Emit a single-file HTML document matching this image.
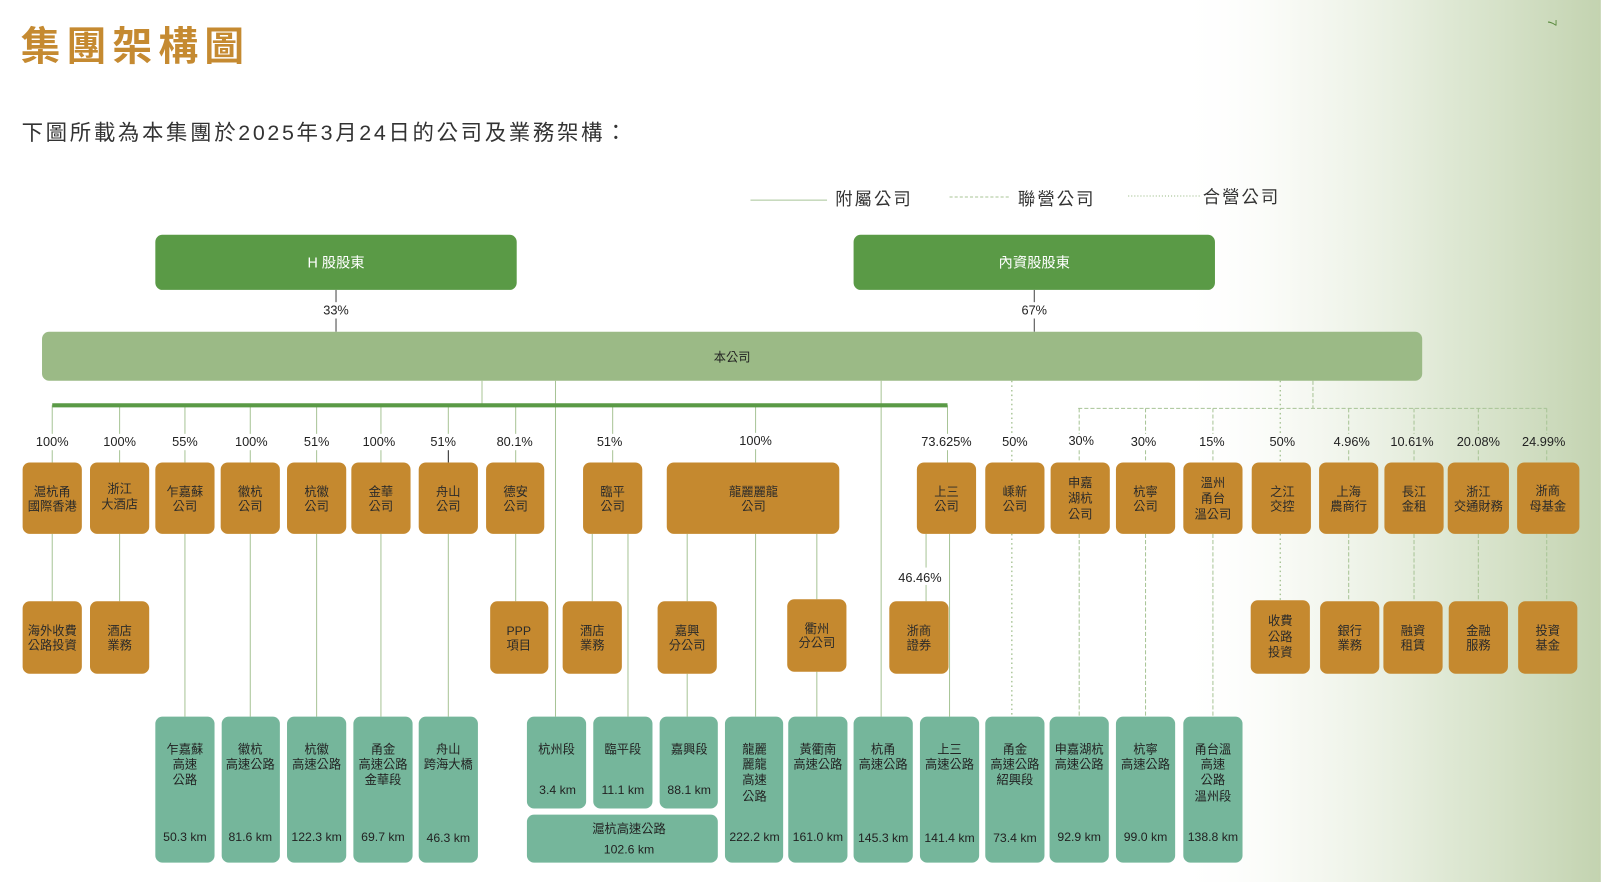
<!DOCTYPE html>
<html><head><meta charset="utf-8"><style>
html,body{margin:0;padding:0;background:#fff;}
svg{display:block;}
text{font-family:"Liberation Sans","Noto Sans CJK TC",sans-serif;}
</style></head><body>
<svg width="1601" height="882" viewBox="0 0 1568 864" xmlns="http://www.w3.org/2000/svg">
<defs>
<linearGradient id="bg" x1="0" y1="0" x2="1" y2="0">
<stop offset="0" stop-color="#ffffff" stop-opacity="0"/>
<stop offset="0.3" stop-color="#f0f4ea" stop-opacity="0.6"/>
<stop offset="0.65" stop-color="#dae5ce" stop-opacity="0.9"/>
<stop offset="1" stop-color="#c3d3b0"/>
</linearGradient>
</defs>
<rect x="1150" y="0" width="418" height="864" fill="url(#bg)"/>
<text x="1515" y="28" font-size="12" fill="#5a8a3e" transform="rotate(90 1520 24)">7</text>

<text x="20" y="59" font-size="39" font-weight="bold" fill="#c58a31" letter-spacing="6">集團架構圖</text>
<text x="21" y="137" font-size="21" fill="#333" letter-spacing="2.6">下圖所載為本集團於2025年3月24日的公司及業務架構：</text>

<!-- legend -->
<line x1="735" y1="196" x2="810" y2="196" stroke="#a8c496" stroke-width="1"/>
<text x="818" y="201" font-size="17" fill="#333" letter-spacing="2">附屬公司</text>
<line x1="930" y1="193" x2="990" y2="193" stroke="#a8c496" stroke-width="1" stroke-dasharray="3,2"/>
<text x="997" y="201" font-size="17" fill="#333" letter-spacing="2">聯營公司</text>
<line x1="1105" y1="192" x2="1175" y2="192" stroke="#a8c496" stroke-width="1.3" stroke-dasharray="1,2"/>
<text x="1178" y="199" font-size="17" fill="#333" letter-spacing="2">合營公司</text>

<!-- shareholders -->
<rect x="152" y="230" width="354" height="54" rx="7" fill="#5a9a46"/>
<text x="329" y="262" font-size="14" fill="#fff" text-anchor="middle">H 股股東</text>
<rect x="836" y="230" width="354" height="54" rx="7" fill="#5a9a46"/>
<text x="1013" y="262" font-size="14" fill="#fff" text-anchor="middle">內資股股東</text>
<g stroke="#444" stroke-width="1">
<line x1="329" y1="284" x2="329" y2="296"/><line x1="329" y1="312" x2="329" y2="325"/>
<line x1="1013" y1="284" x2="1013" y2="296"/><line x1="1013" y1="312" x2="1013" y2="325"/>
</g>
<g font-size="12.5" fill="#222" text-anchor="middle">
<text x="329" y="308">33%</text><text x="1013" y="308">67%</text>
</g>

<rect x="41" y="325" width="1352" height="48" rx="7" fill="#9bba86"/>
<text x="717" y="354" font-size="12" fill="#222" text-anchor="middle">本公司</text>

<!-- connectors -->
<g stroke="#a8c496" stroke-width="1" fill="none">
<line x1="472" y1="373" x2="472" y2="397"/>
<line x1="544" y1="373" x2="544" y2="702"/>
<line x1="863" y1="373" x2="863" y2="702"/>
<line x1="51" y1="397" x2="51" y2="425"/><line x1="117" y1="397" x2="117" y2="425"/>
<line x1="181" y1="397" x2="181" y2="425"/><line x1="245" y1="397" x2="245" y2="425"/>
<line x1="310" y1="397" x2="310" y2="425"/><line x1="373" y1="397" x2="373" y2="425"/>
<line x1="439" y1="397" x2="439" y2="425"/><line x1="505" y1="397" x2="505" y2="425"/>
<line x1="600" y1="397" x2="600" y2="425"/><line x1="740" y1="397" x2="740" y2="424"/>
<line x1="928" y1="397" x2="928" y2="425"/>
<line x1="51" y1="441" x2="51" y2="453"/><line x1="117" y1="441" x2="117" y2="453"/>
<line x1="181" y1="441" x2="181" y2="453"/><line x1="245" y1="441" x2="245" y2="453"/>
<line x1="310" y1="441" x2="310" y2="453"/><line x1="373" y1="441" x2="373" y2="453"/>
<line x1="505" y1="441" x2="505" y2="453"/><line x1="600" y1="441" x2="600" y2="453"/>
<line x1="740" y1="440" x2="740" y2="453"/><line x1="928" y1="441" x2="928" y2="453"/>
<line x1="51" y1="523" x2="51" y2="589"/><line x1="117" y1="523" x2="117" y2="589"/>
<line x1="181" y1="523" x2="181" y2="702"/><line x1="245" y1="523" x2="245" y2="702"/>
<line x1="310" y1="523" x2="310" y2="702"/><line x1="373" y1="523" x2="373" y2="702"/>
<line x1="439" y1="523" x2="439" y2="702"/><line x1="505" y1="523" x2="505" y2="589"/>
<line x1="580" y1="523" x2="580" y2="589"/><line x1="615" y1="523" x2="615" y2="702"/>
<line x1="673" y1="523" x2="673" y2="589"/><line x1="673" y1="660" x2="673" y2="702"/>
<line x1="740" y1="523" x2="740" y2="702"/>
<line x1="800" y1="523" x2="800" y2="587"/><line x1="800" y1="658" x2="800" y2="702"/>
<line x1="907" y1="523" x2="907" y2="556"/><line x1="907" y1="573" x2="907" y2="589"/>
<line x1="930" y1="523" x2="930" y2="702"/>
</g>
<line x1="439" y1="441" x2="439" y2="453" stroke="#222" stroke-width="1"/>
<line x1="51" y1="397" x2="928" y2="397" stroke="#5a9a46" stroke-width="4"/>

<g stroke="#a8c496" stroke-width="1.4" stroke-dasharray="1.5,3" fill="none">
<line x1="991" y1="373" x2="991" y2="425"/><line x1="991" y1="441" x2="991" y2="453"/>
<line x1="991" y1="523" x2="991" y2="702"/>
<line x1="1254" y1="373" x2="1254" y2="425"/><line x1="1254" y1="441" x2="1254" y2="453"/>
<line x1="1254" y1="523" x2="1254" y2="589"/>
</g>
<g stroke="#a8c496" stroke-width="1" stroke-dasharray="4,2" fill="none">
<line x1="1286" y1="373" x2="1286" y2="400"/>
<line x1="1056" y1="400" x2="1515" y2="400"/>
<line x1="1057" y1="400" x2="1057" y2="425"/><line x1="1122" y1="400" x2="1122" y2="425"/>
<line x1="1188" y1="400" x2="1188" y2="425"/><line x1="1321" y1="400" x2="1321" y2="425"/>
<line x1="1385" y1="400" x2="1385" y2="425"/><line x1="1448" y1="400" x2="1448" y2="425"/>
<line x1="1515" y1="400" x2="1515" y2="425"/>
<line x1="1057" y1="441" x2="1057" y2="453"/><line x1="1122" y1="441" x2="1122" y2="453"/>
<line x1="1188" y1="441" x2="1188" y2="453"/><line x1="1321" y1="441" x2="1321" y2="453"/>
<line x1="1385" y1="441" x2="1385" y2="453"/><line x1="1448" y1="441" x2="1448" y2="453"/>
<line x1="1515" y1="441" x2="1515" y2="453"/>
<line x1="1057" y1="523" x2="1057" y2="702"/><line x1="1122" y1="523" x2="1122" y2="702"/>
<line x1="1188" y1="523" x2="1188" y2="702"/><line x1="1321" y1="523" x2="1321" y2="589"/>
<line x1="1385" y1="523" x2="1385" y2="589"/><line x1="1448" y1="523" x2="1448" y2="589"/>
<line x1="1515" y1="523" x2="1515" y2="589"/>
</g>

<g font-size="12.5" fill="#222" text-anchor="middle">
<text x="51" y="437">100%</text><text x="117" y="437">100%</text><text x="181" y="437">55%</text>
<text x="246" y="437">100%</text><text x="310" y="437">51%</text><text x="371" y="437">100%</text>
<text x="434" y="437">51%</text><text x="504" y="437">80.1%</text><text x="597" y="437">51%</text>
<text x="740" y="436">100%</text><text x="927" y="437">73.625%</text><text x="994" y="437">50%</text>
<text x="1059" y="436">30%</text><text x="1120" y="437">30%</text><text x="1187" y="437">15%</text>
<text x="1256" y="437">50%</text><text x="1324" y="437">4.96%</text><text x="1383" y="437">10.61%</text>
<text x="1448" y="437">20.08%</text><text x="1512" y="437">24.99%</text>
<text x="901" y="570">46.46%</text>
</g>

<g fill="#c5892f">
<rect x="22" y="453" width="58" height="70" rx="7"/><rect x="88" y="453" width="58" height="70" rx="7"/>
<rect x="152" y="453" width="58" height="70" rx="7"/><rect x="216" y="453" width="58" height="70" rx="7"/>
<rect x="281" y="453" width="58" height="70" rx="7"/><rect x="344" y="453" width="58" height="70" rx="7"/>
<rect x="410" y="453" width="58" height="70" rx="7"/><rect x="476" y="453" width="57" height="70" rx="7"/>
<rect x="571" y="453" width="58" height="70" rx="7"/><rect x="653" y="453" width="169" height="70" rx="7"/>
<rect x="898" y="453" width="58" height="70" rx="7"/><rect x="965" y="453" width="58" height="70" rx="7"/>
<rect x="1029" y="453" width="58" height="70" rx="7"/><rect x="1093" y="453" width="58" height="70" rx="7"/>
<rect x="1159" y="453" width="58" height="70" rx="7"/><rect x="1226" y="453" width="58" height="70" rx="7"/>
<rect x="1292" y="453" width="58" height="70" rx="7"/><rect x="1356" y="453" width="58" height="70" rx="7"/>
<rect x="1418" y="453" width="60" height="70" rx="7"/><rect x="1486" y="453" width="61" height="70" rx="7"/>
<rect x="22" y="589" width="58" height="71" rx="7"/><rect x="88" y="589" width="58" height="71" rx="7"/>
<rect x="480" y="589" width="57" height="71" rx="7"/><rect x="551" y="589" width="58" height="71" rx="7"/>
<rect x="644" y="589" width="58" height="71" rx="7"/><rect x="771" y="587" width="58" height="71" rx="7"/>
<rect x="871" y="589" width="58" height="71" rx="7"/><rect x="1225" y="588" width="58" height="72" rx="7"/>
<rect x="1293" y="589" width="58" height="71" rx="7"/><rect x="1355" y="589" width="58" height="71" rx="7"/>
<rect x="1419" y="589" width="58" height="71" rx="7"/><rect x="1487" y="589" width="58" height="71" rx="7"/>
</g>
<g font-size="12" fill="#2a2a2a" text-anchor="middle">
<text x="51" y="486">滬杭甬</text><text x="51" y="500">國際香港</text>
<text x="117" y="483">浙江</text><text x="117" y="498">大酒店</text>
<text x="181" y="486">乍嘉蘇</text><text x="181" y="500">公司</text>
<text x="245" y="486">徽杭</text><text x="245" y="500">公司</text>
<text x="310" y="486">杭徽</text><text x="310" y="500">公司</text>
<text x="373" y="486">金華</text><text x="373" y="500">公司</text>
<text x="439" y="486">舟山</text><text x="439" y="500">公司</text>
<text x="505" y="486">德安</text><text x="505" y="500">公司</text>
<text x="600" y="486">臨平</text><text x="600" y="500">公司</text>
<text x="738" y="486">龍麗麗龍</text><text x="738" y="500">公司</text>
<text x="927" y="486">上三</text><text x="927" y="500">公司</text>
<text x="994" y="486">嵊新</text><text x="994" y="500">公司</text>
<text x="1058" y="477">申嘉</text><text x="1058" y="492">湖杭</text><text x="1058" y="508">公司</text>
<text x="1122" y="486">杭寧</text><text x="1122" y="500">公司</text>
<text x="1188" y="477">溫州</text><text x="1188" y="492">甬台</text><text x="1188" y="508">溫公司</text>
<text x="1256" y="486">之江</text><text x="1256" y="500">交控</text>
<text x="1321" y="486">上海</text><text x="1321" y="500">農商行</text>
<text x="1385" y="486">長江</text><text x="1385" y="500">金租</text>
<text x="1448" y="486">浙江</text><text x="1448" y="500">交通財務</text>
<text x="1516" y="485">浙商</text><text x="1516" y="500">母基金</text>

<text x="51" y="622">海外收費</text><text x="51" y="636">公路投資</text>
<text x="117" y="622">酒店</text><text x="117" y="636">業務</text>
<text x="508" y="622">PPP</text><text x="508" y="636">項目</text>
<text x="580" y="622">酒店</text><text x="580" y="636">業務</text>
<text x="673" y="622">嘉興</text><text x="673" y="636">分公司</text>
<text x="800" y="620">衢州</text><text x="800" y="634">分公司</text>
<text x="900" y="622">浙商</text><text x="900" y="636">證券</text>
<text x="1254" y="612">收費</text><text x="1254" y="628">公路</text><text x="1254" y="643">投資</text>
<text x="1322" y="622">銀行</text><text x="1322" y="636">業務</text>
<text x="1384" y="622">融資</text><text x="1384" y="636">租賃</text>
<text x="1448" y="622">金融</text><text x="1448" y="636">服務</text>
<text x="1516" y="622">投資</text><text x="1516" y="636">基金</text>
</g>

<g fill="#75b69b">
<rect x="152" y="702" width="58" height="143" rx="7"/><rect x="217" y="702" width="57" height="143" rx="7"/>
<rect x="281" y="702" width="58" height="143" rx="7"/><rect x="346" y="702" width="58" height="143" rx="7"/>
<rect x="410" y="702" width="58" height="143" rx="7"/>
<rect x="516" y="702" width="58" height="90" rx="7"/><rect x="581" y="702" width="58" height="90" rx="7"/>
<rect x="646" y="702" width="57" height="90" rx="7"/><rect x="516" y="798" width="187" height="47" rx="7"/>
<rect x="710" y="702" width="57" height="143" rx="7"/><rect x="772" y="702" width="58" height="143" rx="7"/>
<rect x="836" y="702" width="58" height="143" rx="7"/><rect x="901" y="702" width="58" height="143" rx="7"/>
<rect x="965" y="702" width="58" height="143" rx="7"/><rect x="1028" y="702" width="58" height="143" rx="7"/>
<rect x="1093" y="702" width="58" height="143" rx="7"/><rect x="1159" y="702" width="58" height="143" rx="7"/>
</g>
<g font-size="12" fill="#222" text-anchor="middle">
<text x="181" y="738">乍嘉蘇</text><text x="181" y="753">高速</text><text x="181" y="768">公路</text><text x="181" y="824">50.3 km</text>
<text x="245" y="738">徽杭</text><text x="245" y="753">高速公路</text><text x="245" y="824">81.6 km</text>
<text x="310" y="738">杭徽</text><text x="310" y="753">高速公路</text><text x="310" y="824">122.3 km</text>
<text x="375" y="738">甬金</text><text x="375" y="753">高速公路</text><text x="375" y="768">金華段</text><text x="375" y="824">69.7 km</text>
<text x="439" y="738">舟山</text><text x="439" y="753">跨海大橋</text><text x="439" y="825">46.3 km</text>
<text x="545" y="738">杭州段</text><text x="546" y="778">3.4 km</text>
<text x="610" y="738">臨平段</text><text x="610" y="778">11.1 km</text>
<text x="675" y="738">嘉興段</text><text x="675" y="778">88.1 km</text>
<text x="616" y="816">滬杭高速公路</text><text x="616" y="836">102.6 km</text>
<text x="739" y="738">龍麗</text><text x="739" y="753">麗龍</text><text x="739" y="768">高速</text><text x="739" y="784">公路</text><text x="739" y="824">222.2 km</text>
<text x="801" y="738">黃衢南</text><text x="801" y="753">高速公路</text><text x="801" y="824">161.0 km</text>
<text x="865" y="738">杭甬</text><text x="865" y="753">高速公路</text><text x="865" y="825">145.3 km</text>
<text x="930" y="738">上三</text><text x="930" y="753">高速公路</text><text x="930" y="825">141.4 km</text>
<text x="994" y="738">甬金</text><text x="994" y="753">高速公路</text><text x="994" y="768">紹興段</text><text x="994" y="825">73.4 km</text>
<text x="1057" y="738">申嘉湖杭</text><text x="1057" y="753">高速公路</text><text x="1057" y="824">92.9 km</text>
<text x="1122" y="738">杭寧</text><text x="1122" y="753">高速公路</text><text x="1122" y="824">99.0 km</text>
<text x="1188" y="738">甬台溫</text><text x="1188" y="753">高速</text><text x="1188" y="768">公路</text><text x="1188" y="784">溫州段</text><text x="1188" y="824">138.8 km</text>
</g>
</svg>
</body></html>
